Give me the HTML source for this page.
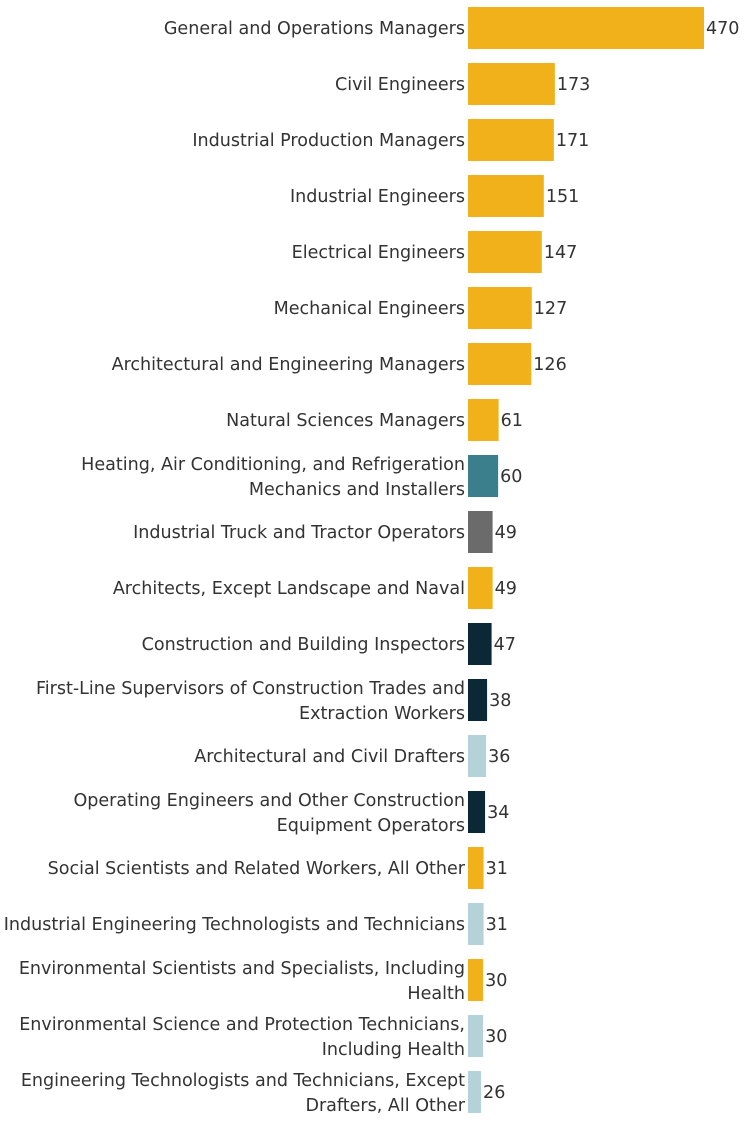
<!DOCTYPE html>
<html><head><meta charset="utf-8"><style>
body{margin:0;background:#fff;width:754px;height:1120px;overflow:hidden;font-family:"DejaVu Sans",sans-serif;}
svg text{font-family:"DejaVu Sans",sans-serif;font-size:17.55px;fill:#333;}
</style></head><body>
<svg id="chart" width="754" height="1120"></svg>
<script>
const categories=[["General and Operations Managers"],["Civil Engineers"],["Industrial Production Managers"],["Industrial Engineers"],["Electrical Engineers"],["Mechanical Engineers"],["Architectural and Engineering Managers"],["Natural Sciences Managers"],["Heating, Air Conditioning, and Refrigeration","Mechanics and Installers"],["Industrial Truck and Tractor Operators"],["Architects, Except Landscape and Naval"],["Construction and Building Inspectors"],["First-Line Supervisors of Construction Trades and","Extraction Workers"],["Architectural and Civil Drafters"],["Operating Engineers and Other Construction","Equipment Operators"],["Social Scientists and Related Workers, All Other"],["Industrial Engineering Technologists and Technicians"],["Environmental Scientists and Specialists, Including","Health"],["Environmental Science and Protection Technicians,","Including Health"],["Engineering Technologists and Technicians, Except","Drafters, All Other"]];
const values=[470,173,171,151,147,127,126,61,60,49,49,47,38,36,34,31,31,30,30,26];
const groups=["g","g","g","g","g","g","g","g","t","y","g","n","n","l","n","g","l","g","l","l"];
const colorMap={g:"#F0B11B",t:"#3B7F8C",y:"#6B6B6B",n:"#0B2836",l:"#B3D3D9"};
const svg=document.getElementById('chart');
const NS="http://www.w3.org/2000/svg";
const x0=468, xs=v=>v*236/470, yc=i=>28+56*i, bh=42;
values.forEach((v,i)=>{
  const r=document.createElementNS(NS,'rect');
  r.setAttribute('x',x0);r.setAttribute('y',yc(i)-bh/2);r.setAttribute('width',xs(v));r.setAttribute('height',bh);
  r.setAttribute('fill',colorMap[groups[i]]);
  
  
  svg.appendChild(r);
  const t=document.createElementNS(NS,'text');
  t.setAttribute('x',x0+xs(v)+2);t.setAttribute('y',yc(i)+6);t.textContent=v;
  
  
  svg.appendChild(t);
  const lines=categories[i];
  lines.forEach((ln,j)=>{
    const l=document.createElementNS(NS,'text');
    const off=lines.length===1?6:(j===0?-6:19);
    l.setAttribute('x',465);l.setAttribute('y',yc(i)+off);l.setAttribute('text-anchor','end');
    l.textContent=ln;
    
    
    svg.appendChild(l);
  });
});
</script>
</body></html>
